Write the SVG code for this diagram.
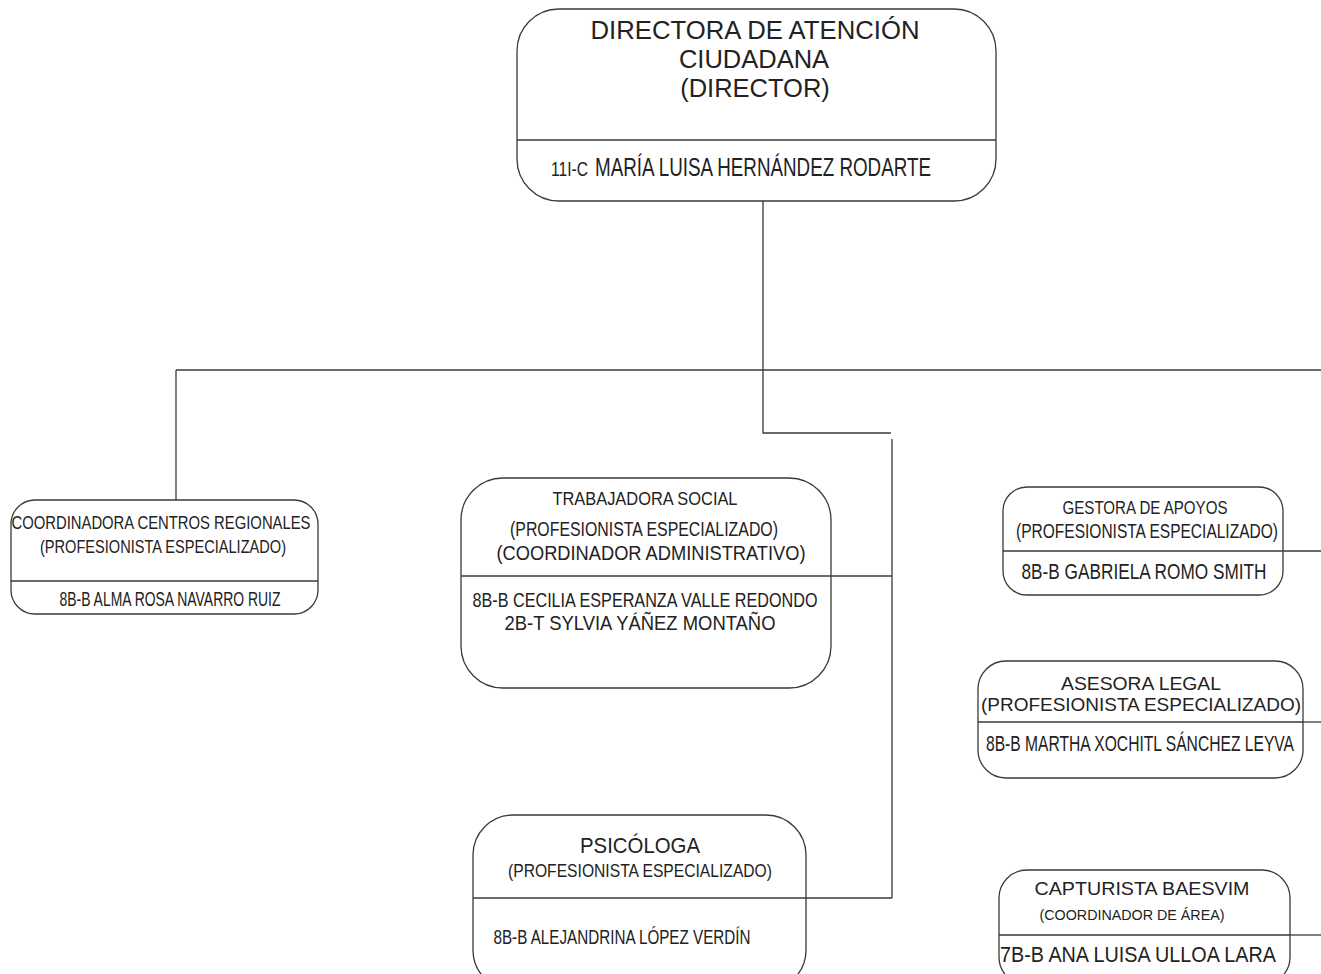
<svg xmlns="http://www.w3.org/2000/svg" width="1321" height="974" viewBox="0 0 1321 974">
<style>
.box{fill:#fff;stroke:#3a3a3a;stroke-width:1.3}
.ln{fill:none;stroke:#3a3a3a;stroke-width:1.3}
text{font-family:"Liberation Sans",Arial,sans-serif;fill:#222}
.c{text-anchor:middle}
.s{text-anchor:start}
</style>
<rect width="1321" height="974" fill="#fff"/>
<g id="connectors">
<polyline class="ln" points="763,201 763,433 891,433"/>
<line class="ln" x1="176" y1="370" x2="1321" y2="370"/>
<line class="ln" x1="176" y1="370" x2="176" y2="500"/>
<line class="ln" x1="892" y1="439" x2="892" y2="898"/>
<line class="ln" x1="831" y1="576" x2="892" y2="576"/>
<line class="ln" x1="806" y1="898" x2="892" y2="898"/>
<line class="ln" x1="1283" y1="551" x2="1321" y2="551"/>
<line class="ln" x1="1303" y1="722" x2="1321" y2="722"/>
<line class="ln" x1="1290" y1="935" x2="1321" y2="935"/>
</g>
<g id="n-director">
<rect class="box" x="517" y="9" width="479" height="192" rx="42"/>
<line class="ln" x1="517" y1="140" x2="996" y2="140"/>
<text class="c" x="755" y="39" font-size="25.5" textLength="329" lengthAdjust="spacingAndGlyphs">DIRECTORA DE ATENCIÓN</text>
<text class="c" x="754" y="68" font-size="25.5">CIUDADANA</text>
<text class="c" x="755" y="97" font-size="25.5">(DIRECTOR)</text>
<text class="s" x="551" y="176" font-size="21" textLength="37" lengthAdjust="spacingAndGlyphs">11I-C</text>
<text class="s" x="595" y="176" font-size="25" textLength="336" lengthAdjust="spacingAndGlyphs">MARÍA LUISA HERNÁNDEZ RODARTE</text>
</g>
<g id="n-coordinadora">
<rect class="box" x="11" y="500" width="307" height="114" rx="24"/>
<line class="ln" x1="11" y1="581" x2="318" y2="581"/>
<text class="c" x="161" y="528.5" font-size="18.5" textLength="299" lengthAdjust="spacingAndGlyphs">COORDINADORA CENTROS REGIONALES</text>
<text class="c" x="163" y="552.5" font-size="18.5" textLength="246" lengthAdjust="spacingAndGlyphs">(PROFESIONISTA ESPECIALIZADO)</text>
<text class="c" x="170" y="605.5" font-size="21" textLength="221" lengthAdjust="spacingAndGlyphs">8B-B  ALMA ROSA NAVARRO RUIZ</text>
</g>
<g id="n-trabajadora">
<rect class="box" x="461" y="478" width="370" height="210" rx="42"/>
<line class="ln" x1="461" y1="576" x2="831" y2="576"/>
<text class="c" x="645" y="504.5" font-size="18.5" textLength="185" lengthAdjust="spacingAndGlyphs">TRABAJADORA  SOCIAL</text>
<text class="c" x="644" y="536" font-size="20" textLength="268" lengthAdjust="spacingAndGlyphs">(PROFESIONISTA ESPECIALIZADO)</text>
<text class="c" x="651" y="560" font-size="20" textLength="309" lengthAdjust="spacingAndGlyphs">(COORDINADOR ADMINISTRATIVO)</text>
<text class="c" x="645" y="606.5" font-size="21" textLength="345" lengthAdjust="spacingAndGlyphs">8B-B CECILIA ESPERANZA VALLE REDONDO</text>
<text class="c" x="640" y="629.5" font-size="21" textLength="271" lengthAdjust="spacingAndGlyphs">2B-T SYLVIA YÁÑEZ MONTAÑO</text>
</g>
<g id="n-gestora">
<rect class="box" x="1003" y="487" width="280" height="108" rx="24"/>
<line class="ln" x1="1003" y1="551" x2="1283" y2="551"/>
<text class="c" x="1145" y="513.5" font-size="18.5" textLength="165" lengthAdjust="spacingAndGlyphs">GESTORA DE APOYOS</text>
<text class="c" x="1147" y="537.5" font-size="20" textLength="262" lengthAdjust="spacingAndGlyphs">(PROFESIONISTA ESPECIALIZADO)</text>
<text class="c" x="1144" y="579" font-size="21.5" textLength="245" lengthAdjust="spacingAndGlyphs">8B-B GABRIELA ROMO SMITH</text>
</g>
<g id="n-asesora">
<rect class="box" x="978" y="661" width="325" height="117" rx="28"/>
<line class="ln" x1="978" y1="722" x2="1303" y2="722"/>
<text class="c" x="1141" y="690" font-size="18" textLength="160" lengthAdjust="spacingAndGlyphs">ASESORA LEGAL</text>
<text class="c" x="1141" y="711" font-size="18.5" textLength="320" lengthAdjust="spacingAndGlyphs">(PROFESIONISTA ESPECIALIZADO)</text>
<text class="c" x="1140" y="751" font-size="21.5" textLength="308" lengthAdjust="spacingAndGlyphs">8B-B MARTHA XOCHITL SÁNCHEZ LEYVA</text>
</g>
<g id="n-psicologa">
<rect class="box" x="473" y="815" width="333" height="175" rx="40"/>
<line class="ln" x1="473" y1="898" x2="806" y2="898"/>
<text class="c" x="640" y="853" font-size="22" textLength="120" lengthAdjust="spacingAndGlyphs">PSICÓLOGA</text>
<text class="c" x="640" y="877" font-size="18.5" textLength="264" lengthAdjust="spacingAndGlyphs">(PROFESIONISTA ESPECIALIZADO)</text>
<text class="c" x="622" y="944" font-size="19.5" textLength="257" lengthAdjust="spacingAndGlyphs">8B-B ALEJANDRINA LÓPEZ VERDÍN</text>
</g>
<g id="n-capturista">
<rect class="box" x="999" y="870" width="291" height="115" rx="28"/>
<line class="ln" x1="999" y1="935" x2="1290" y2="935"/>
<text class="c" x="1142" y="895" font-size="18.5" textLength="215" lengthAdjust="spacingAndGlyphs">CAPTURISTA BAESVIM</text>
<text class="c" x="1132" y="920" font-size="15" textLength="185" lengthAdjust="spacingAndGlyphs">(COORDINADOR DE ÁREA)</text>
<text class="c" x="1138" y="962" font-size="22" textLength="276" lengthAdjust="spacingAndGlyphs">7B-B ANA LUISA ULLOA LARA</text>
</g>
</svg>
